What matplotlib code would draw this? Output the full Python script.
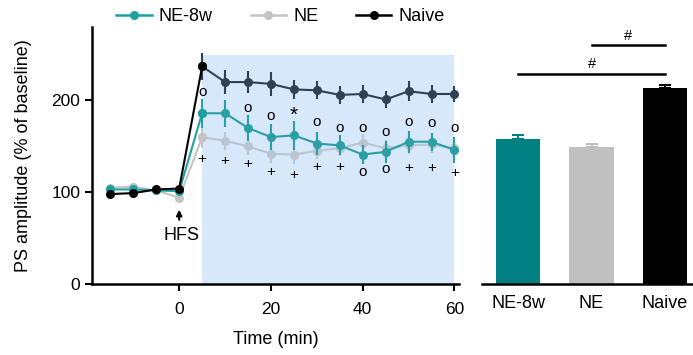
import numpy as np
import matplotlib as mpl
mpl.use('Agg')
import matplotlib.pyplot as plt
from matplotlib.lines import Line2D

plt.rcParams['font.family'] = ['Liberation Sans', 'DejaVu Sans']

# time course (min); baseline points then post-HFS points
t_pre = [-15, -10, -5, 0, 5]
t_post = [5, 10, 15, 20, 25, 30, 35, 40, 45, 50, 55, 60]

naive_pre = [98, 99, 103, 104, 237]
ne8w_pre = [103, 103, 102, 101, 186]
ne_pre = [105, 106, 102, 94, 160]

naive_post = [237, 220, 220, 218, 212, 211, 206, 207, 201, 210, 207, 207]
naive_err = [15, 13, 12, 13, 10, 10, 10, 10, 9, 11, 10, 9]
ne8w_post = [186, 186, 170, 160, 162, 153, 151, 141, 144, 155, 155, 146]
ne8w_err = [16, 14.5, 14.5, 14.5, 16, 12.5, 11, 10, 12, 12, 10, 14.5]
ne_post = [160, 156, 150, 142, 141, 145, 148, 154, 148, 151, 152, 148]
ne_err = [12, 10, 10, 10, 10, 9, 9, 9, 9, 9, 9, 9]

# significance marks: (time, y, symbol)
marks = [(5, 209, 'o'), (15, 192, 'o'), (20, 183, 'o'), (25, 184, '*'),
         (30, 176, 'o'), (35, 170, 'o'), (40, 170, 'o'), (45, 166, 'o'),
         (50, 176, 'o'), (55, 175, 'o'), (60, 170, 'o'),
         (5, 136, '+'), (10, 134, '+'), (15, 131, '+'), (20, 122, '+'),
         (25, 119, '+'), (30, 127.5, '+'), (35, 127.5, '+'), (40, 122, 'o'),
         (45, 125.5, 'o'), (50, 126.5, '+'), (55, 126.5, '+'), (60, 120.5, '+')]

# bar summary
groups = ['NE-8w', 'NE', 'Naive']
bar_vals = [158, 149, 213]
bar_err = [4.5, 3, 4]
bar_colors = ['#008080', '#c0c0c0', '#000000']

pre_colors = {'NE-8w': '#1fa0a0', 'NE': '#c4c4c4', 'Naive': '#000000'}
post_colors = {'NE-8w': '#2c9fa6', 'NE': '#bac5d0', 'Naive': '#2f4255'}

fig = plt.figure(figsize=(6.93, 3.55), dpi=100)
ax = fig.add_axes([0.1328, 0.2, 0.5296, 0.724])
ax2 = fig.add_axes([0.6955, 0.2, 0.3045, 0.724])

ax.axvspan(5, 60, ymin=0, ymax=250 / 280, color='#d6e8fa', zorder=0, lw=0)

series = [('NE', ne_pre, ne_post, ne_err, 2),
          ('NE-8w', ne8w_pre, ne8w_post, ne8w_err, 3),
          ('Naive', naive_pre, naive_post, naive_err, 4)]
for name, pre, post, err, z in series:
    ax.errorbar(t_post, post, yerr=err, color=post_colors[name], marker='o',
                ms=5.5, lw=1.5, elinewidth=1.5, capsize=0, zorder=z)
    ax.plot(t_pre, pre, color=pre_colors[name], marker='o', ms=5.5, lw=1.5,
            zorder=z + 0.5)

for x, y, s in marks:
    fs = 15 if s == '*' else 11
    ax.text(x, y, s, ha='center', va='center', fontsize=fs, zorder=6)

ax.annotate('', xy=(0, 84), xytext=(0, 67),
            arrowprops=dict(arrowstyle='-|>', lw=1.5, color='k', mutation_scale=8))
ax.text(0.5, 53, 'HFS', ha='center', va='center', fontsize=13)

ax.set_xlim(-19, 61)
ax.set_ylim(0, 280)
ax.set_xticks([0, 20, 40, 60])
ax.set_yticks([0, 100, 200])
ax.tick_params(labelsize=12.5, width=1.5, length=5)
ax.tick_params(axis='x', pad=8)
ax.spines[['top', 'right']].set_visible(False)
ax.spines[['left', 'bottom']].set_linewidth(1.8)
ax.set_xlabel('Time (min)', fontsize=13, labelpad=10)
ax.set_ylabel('PS amplitude (% of baseline)', fontsize=13, labelpad=14)

handles = [Line2D([], [], color=pre_colors[g], marker='o', ms=5.5, lw=1.8)
           for g in groups]
fig.legend(handles, groups, loc='center', bbox_to_anchor=(0.405, 0.953), ncol=3,
           frameon=False, fontsize=13, handlelength=1.95, columnspacing=2.1,
           handletextpad=0.4)

xb = np.arange(len(groups))
ax2.bar(xb, bar_vals, width=0.61, color=bar_colors, zorder=2)
for i in range(len(groups)):
    ax2.errorbar(xb[i], bar_vals[i], yerr=[[0], [bar_err[i]]], color=bar_colors[i],
                 capsize=4, elinewidth=1.5, capthick=1.5, zorder=1)

ax2.plot([1, 2], [260, 260], color='k', lw=1.8)
ax2.text(1.5, 263, '#', ha='center', va='bottom', fontsize=10.5)
ax2.plot([0, 2], [229, 229], color='k', lw=1.8)
ax2.text(1.0, 232, '#', ha='center', va='bottom', fontsize=10.5)

ax2.set_xlim(-0.49, 2.38)
ax2.set_ylim(0, 280)
ax2.set_xticks(xb)
ax2.set_xticklabels(groups)
ax2.set_yticks([])
ax2.tick_params(axis='x', length=0, labelsize=13, pad=8)
ax2.spines[['top', 'right', 'left']].set_visible(False)
ax2.spines['bottom'].set_linewidth(1.8)

fig.savefig('out.png', dpi=100)
